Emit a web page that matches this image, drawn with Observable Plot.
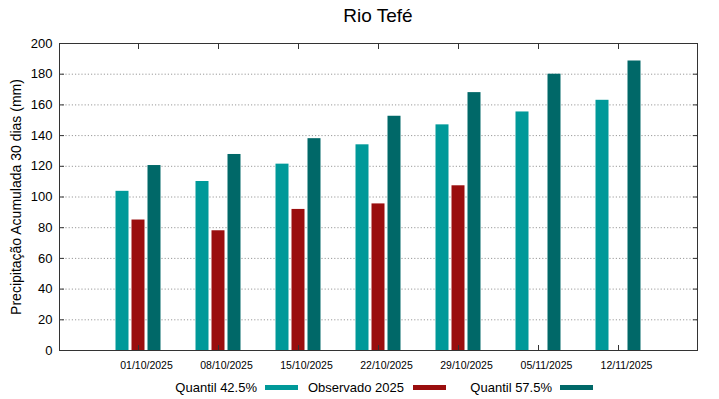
<!DOCTYPE html>
<html>
<head>
<meta charset="utf-8">
<script src="https://cdn.jsdelivr.net/npm/d3@7"></script>
<script src="https://cdn.jsdelivr.net/npm/@observablehq/plot@0.6"></script>
<style>
  body { margin: 0; background: #fff; }
  #wrap { position: relative; width: 719px; height: 399px; font-family: "Liberation Sans", Arial, sans-serif; color: #000; }
  #title { position: relative; height: 34px; }
  #title span { position: absolute; left: 59px; width: 638px; top: 5px; text-align: center; font-size: 19px; }
  #legend { position: relative; height: 25px; font-size: 13px; }
  #legend .t { position: absolute; top: 6px; white-space: nowrap; text-align: right; }
  #legend .s { position: absolute; top: 11px; height: 5px; width: 33px; }
  svg { display: block; }
</style>
</head>
<body>
<div id="wrap">
  <div id="title"><span>Rio Tefé</span></div>
  <div id="chart"></div>
  <div id="legend"></div>
</div>
<script>
const dates = ["01/10/2025", "08/10/2025", "15/10/2025", "22/10/2025", "29/10/2025", "05/11/2025", "12/11/2025"];
const quantil425 = [103.7, 110.1, 121.4, 134.0, 147.0, 155.4, 163.0];
const observado2025 = [85.0, 78.0, 91.9, 95.5, 107.3, null, null];
const quantil575 = [120.5, 127.7, 138.0, 152.6, 168.0, 180.0, 188.6];
const yTicks = [0, 20, 40, 60, 80, 100, 120, 140, 160, 180, 200];
const gridTicks = [20, 40, 60, 80, 100, 120, 140, 160, 180];
const seriesNames = ["Quantil 42.5%", "Observado 2025", "Quantil 57.5%"];
const colors = ["#009999", "#9a0e0e", "#006868"];

const mk = (vals) => dates.map((d, i) => ({date: d, value: vals[i]})).filter(r => r.value != null);

const plot = Plot.plot({
  width: 719,
  height: 340,
  marginTop: 9,
  marginBottom: 24,
  marginLeft: 59,
  marginRight: 22,
  style: {fontFamily: "'Liberation Sans', Arial, sans-serif", color: "#000", background: "#fff"},
  x: {type: "band", domain: dates, paddingInner: 0, paddingOuter: 0.4875, label: null},
  y: {domain: [0, 200], label: null},
  marks: [
    Plot.ruleY(gridTicks, {stroke: "#9a9a9a", strokeWidth: 1, strokeDasharray: "1.2,2"}),
    Plot.barY(mk(quantil425), {x: "date", y: "value", fill: colors[0], insetLeft: 17.5, insetRight: 49.5}),
    Plot.barY(mk(observado2025), {x: "date", y: "value", fill: colors[1], insetLeft: 33.5, insetRight: 33.5}),
    Plot.barY(mk(quantil575), {x: "date", y: "value", fill: colors[2], insetLeft: 49.5, insetRight: 17.5}),
    Plot.axisY({ticks: yTicks, tickSize: 0, tickPadding: 7, fontSize: 13, label: null}),
    Plot.axisY({anchor: "left", ticks: yTicks, tickSize: -5, text: null, label: null, stroke: "#333"}),
    Plot.axisY({anchor: "right", ticks: yTicks, tickSize: -5, text: null, label: null, stroke: "#333"}),
    Plot.axisX({tickSize: 0, tickPadding: 11, fontSize: 10.5, dx: 8, label: null}),
    Plot.axisX({anchor: "bottom", tickSize: -5, text: null, label: null, stroke: "#333"}),
    Plot.axisX({anchor: "top", tickSize: -5, text: null, label: null, stroke: "#333"}),
    Plot.frame({stroke: "#333", strokeWidth: 1}),
    Plot.text(["Precipitação Acumulada 30 dias (mm)"], {frameAnchor: "left", dx: -43, rotate: -90, fontSize: 14, textAnchor: "middle", lineAnchor: "middle", fill: "#000"})
  ]
});
document.getElementById("chart").appendChild(plot);

// legend
const legend = document.getElementById("legend");
const textRight = [257, 404, 552];
const swatchLeft = [265, 413, 560];
seriesNames.forEach((name, i) => {
  const t = document.createElement("span");
  t.className = "t";
  t.textContent = name;
  t.style.right = (719 - textRight[i]) + "px";
  legend.appendChild(t);
  const s = document.createElement("span");
  s.className = "s";
  s.style.left = swatchLeft[i] + "px";
  s.style.background = colors[i];
  legend.appendChild(s);
});
</script>
</body>
</html>
